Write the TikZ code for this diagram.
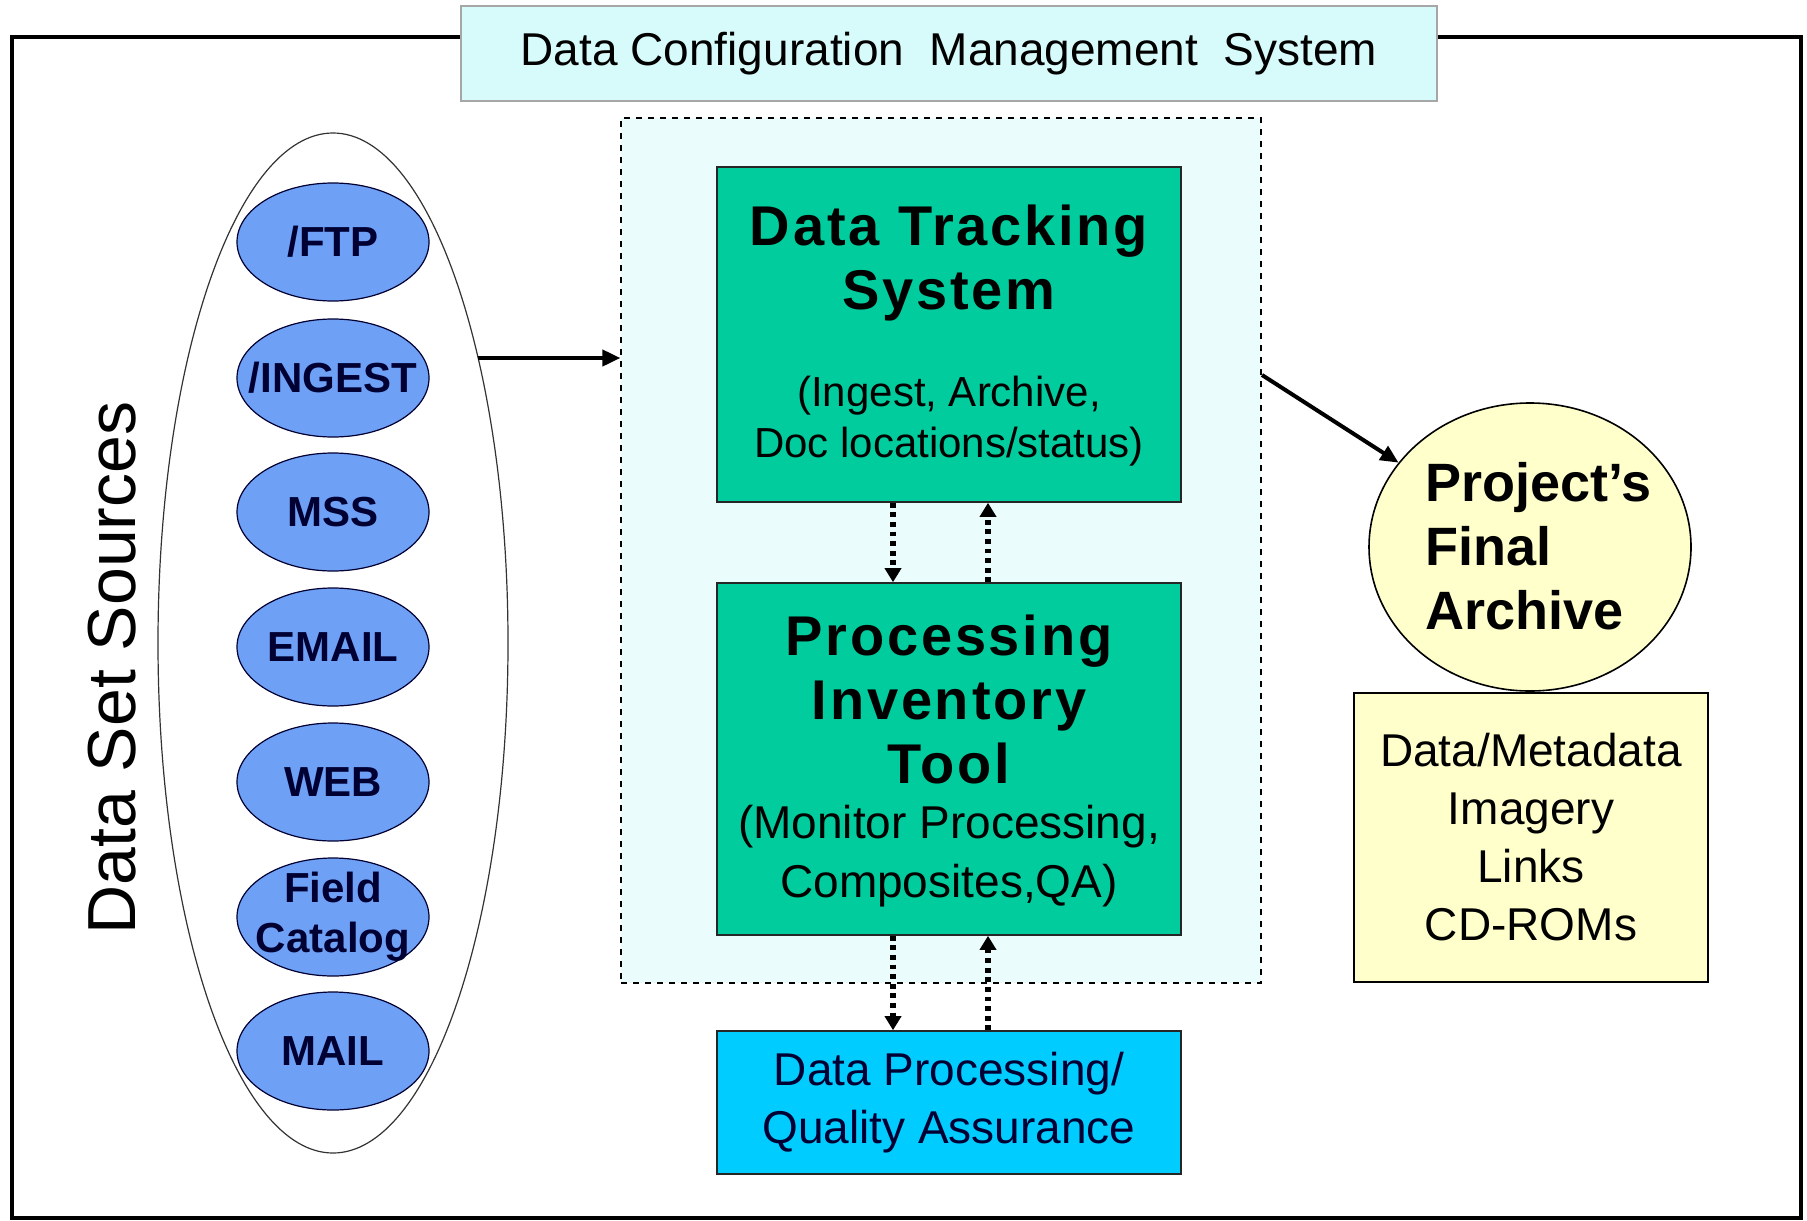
\documentclass[tikz,border=0pt]{standalone}
\usepackage{fontspec}
\setmainfont{Liberation Sans}
\newfontfamily\widefont{Liberation Sans}[LetterSpace=5]
\usetikzlibrary{shapes.geometric,arrows.meta}
\definecolor{tealbox}{RGB}{0,204,158}
\definecolor{cyanbox}{RGB}{0,204,255}
\definecolor{srcblue}{RGB}{110,160,245}
\definecolor{navytxt}{RGB}{0,0,51}
\definecolor{paleyel}{RGB}{255,255,204}
\definecolor{titlefill}{RGB}{215,250,250}
\definecolor{dashfill}{RGB}{234,252,252}
\begin{document}
\begin{tikzpicture}[x=0.5pt,y=-0.5pt,
  tbox/.style={draw=black!85, line width=0.8pt, fill=tealbox, inner sep=0pt, minimum width=232pt},
  srcnode/.style={ellipse, draw=navytxt, line width=0.6pt, fill=srcblue, inner sep=0pt,
     minimum width=96pt, minimum height=59pt,
     label={[text=navytxt, align=center, inner sep=0pt, font=\fontsize{21}{25}\selectfont\bfseries]center:#1}},
  boldtxt/.style={align=center, inner sep=0pt, font=\fontsize{28}{32}\selectfont\widefont\bfseries},
  subtxt/.style={align=center, inner sep=0pt},
  bigarrow/.style={line width=2pt, -{Triangle[length=9pt,width=8pt]}},
  dotarrow/.style={line width=2.6pt, dash pattern=on 2.4pt off 2.4pt, -{Triangle[length=7pt,width=8pt]}}
]
\useasboundingbox (0,0) rectangle (1807,1220);
% outer frame
\draw[line width=2pt] (12,37) rectangle (1801,1218);
% title
\node (title) at (949,53.5) [draw=gray!70, line width=0.6pt, fill=titlefill, minimum width=488pt, minimum height=47.5pt, inner sep=0pt, font=\fontsize{23}{28}\selectfont] {Data Configuration\ \ Management\ \ System};
% dashed container
\node (dash) at (941,550.5) [draw=black, dashed, line width=0.6pt, fill=dashfill, minimum width=320pt, minimum height=432.5pt, inner sep=0pt] {};
% sources ellipse
\node (srcs) at (333,643) [ellipse, draw=black!80, line width=0.6pt, fill=white, minimum width=175pt, minimum height=510pt, inner sep=0pt] {};
\node (ftp) at (333,242) [srcnode={/FTP}] {};
\node (ingest) at (333,378) [srcnode={/INGEST}] {};
\node (mss) at (333,512) [srcnode={MSS}] {};
\node (email) at (333,647) [srcnode={EMAIL}] {};
\node (web) at (333,782) [srcnode={WEB}] {};
\node (field) at (333,917) [srcnode={Field\\Catalog}] {};
\node (mail) at (333,1051) [srcnode={MAIL}] {};
\node (dss) at (112,668) [rotate=90, inner sep=0pt, font=\fontsize{34}{40}\selectfont] {Data Set Sources};
% main boxes
\node (dts) at (949,334.5) [tbox, minimum height=167.5pt] {};
\node (dtsT) at (949,263) [boldtxt] {Data Tracking\\System};
\node (dtsS) at (949,421) [subtxt, font=\fontsize{21}{25.5}\selectfont] {(Ingest, Archive,\\Doc locations/status)};
\node (pit) at (949,759) [tbox, minimum height=176pt] {};
\node (pitT) at (949,699) [boldtxt] {Processing\\Inventory\\Tool};
\node (pitS) at (949,856) [subtxt, font=\fontsize{23}{29.5}\selectfont] {(Monitor Processing,\\Composites,QA)};
\node (dpqa) at (949,1102.5) [draw=black!85, line width=0.8pt, fill=cyanbox, minimum width=232pt, minimum height=71.5pt, inner sep=0pt, align=center, text=navytxt, font=\fontsize{23}{29}\selectfont] {Data Processing/\\Quality Assurance};
% archive
\node (arch) at (1530,547) [ellipse, draw=black, line width=0.8pt, fill=paleyel, minimum width=161pt, minimum height=144pt, inner sep=0pt] {};
\node (archT) at (1425,546) [anchor=west, align=left, inner sep=0pt, font=\fontsize{27}{32}\selectfont\bfseries] {Project’s\\Final\\Archive};
\node (prod) at (1531,837.5) [draw=black, line width=1pt, fill=paleyel, minimum width=177pt, minimum height=144.5pt, inner sep=0pt, align=center, font=\fontsize{23}{29}\selectfont] {Data/Metadata\\Imagery\\Links\\CD-ROMs};
% connectors
\coordinate (a1) at (478,358);
\draw[bigarrow] (a1) -- (a1 -| dash.west);
\coordinate (a2) at (1262,375);
\draw[bigarrow] (a2) -- (arch);
\coordinate (cd) at (893,0);
\coordinate (cu) at (988,0);
\draw[dotarrow] (dts.south -| cd) -- (pit.north -| cd);
\draw[dotarrow] (pit.north -| cu) -- (dts.south -| cu);
\draw[dotarrow] (pit.south -| cd) -- (dpqa.north -| cd);
\draw[dotarrow] (dpqa.north -| cu) -- (pit.south -| cu);
\end{tikzpicture}
\end{document}
